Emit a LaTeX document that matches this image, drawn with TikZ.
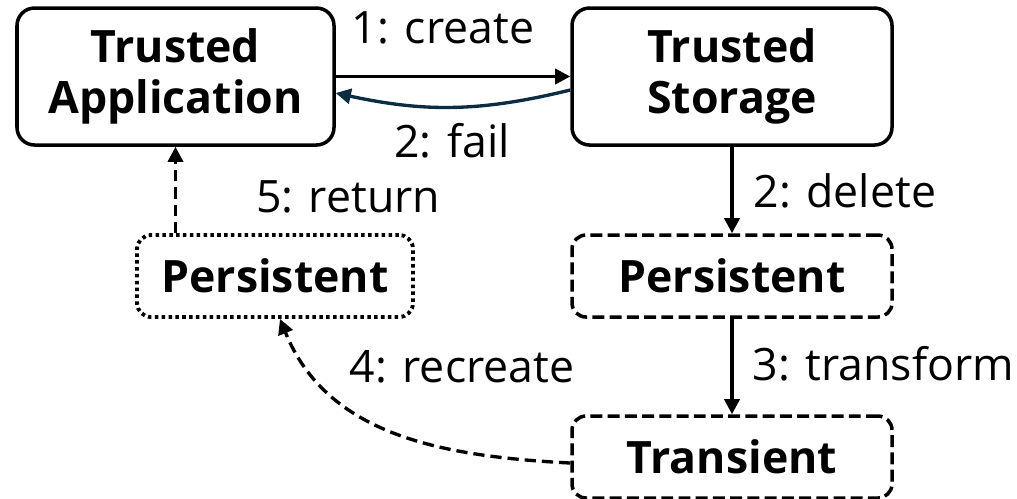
\documentclass[tikz,border=0pt]{standalone}
\usepackage{fontspec}
\setmainfont{Open Sans}
\usepackage{tikz}
\usetikzlibrary{arrows.meta}

\definecolor{failcol}{RGB}{10,45,65}
\newcommand{\stepfont}{\fontsize{12.7}{14.5}\selectfont}

\tikzset{
  obj/.style = {draw, line width=1pt, rounded corners=5pt, align=center,
                inner sep=0pt, font=\stepfont\bfseries},
  dashbox/.style = {obj, rounded corners=4pt, dash pattern=on 3.4pt off 1.5pt},
  dotbox/.style = {obj, line width=1.1pt, rounded corners=4pt, dash pattern=on 1pt off 0.95pt},
  flow/.style = {line width=0.95pt, -{Triangle[length=4.3pt,width=4.3pt]}},
  dflow/.style = {flow, dash pattern=on 3.2pt off 1.7pt},
  lbl/.style = {anchor=base, inner sep=0pt, font=\stepfont}
}

\begin{document}
\begin{tikzpicture}
\useasboundingbox (0,0) rectangle (10.17,-4.98);

% boxes
\node[obj, minimum width=3.17cm, minimum height=1.37cm] (ta) at (1.755,-0.765) {Trusted\\Application};
\node[obj, minimum width=3.2cm, minimum height=1.37cm] (ts) at (7.32,-0.765) {Trusted\\Storage};
\node[dotbox, minimum width=2.76cm, minimum height=0.82cm] (pp) at (2.75,-2.76) {Persistent};
\node[dashbox, minimum width=3.2cm, minimum height=0.82cm] (pd) at (7.32,-2.76) {Persistent};
\node[dashbox, minimum width=3.2cm, minimum height=0.82cm] (tr) at (7.32,-4.57) {Transient};

% arrows
\draw[flow] (ta.east) -- (ts.west);
\draw[flow, failcol] ([yshift=-0.135cm]ts.west) to[bend left=13] ([yshift=-0.165cm]ta.east);
\draw[flow] (ts.south) -- (pd.north);
\draw[flow] (pd.south) -- (tr.north);
\draw[dflow] ([yshift=-0.06cm]tr.west) to[out=177,in=-68] ([xshift=0.05cm]pp.south);
\draw[dflow] (ta.south |- pp.north) -- (ta.south);

% step labels
\node[lbl] (lcreate) at (4.43,-0.43) {1: create};
\node[lbl] (lfail) at (4.52,-1.57) {2: fail};
\node[lbl] (lreturn) at (3.48,-2.12) {5: return};
\node[lbl, anchor=base west] (ldelete) at (7.53,-2.07) {2: delete};
\node[lbl, anchor=base west] (ltransform) at (7.52,-3.80) {3: transform};
\node[lbl] (lrecreate) at (4.62,-3.82) {4: recreate};
\end{tikzpicture}
\end{document}
